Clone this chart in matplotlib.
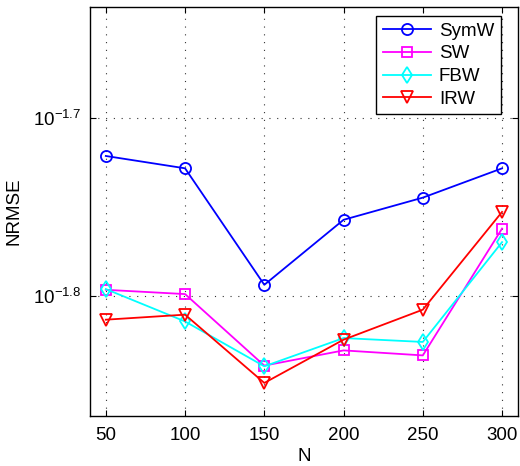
import numpy as np
import matplotlib
matplotlib.use("Agg")
import matplotlib.pyplot as plt
from matplotlib.ticker import FixedLocator, FuncFormatter, NullLocator

plt.rcParams['font.family'] = ['Liberation Sans', 'DejaVu Sans']
plt.rcParams['mathtext.fontset'] = 'custom'
plt.rcParams['mathtext.rm'] = 'Liberation Sans'
plt.rcParams['mathtext.it'] = 'Liberation Sans'

N = [50, 100, 150, 200, 250, 300]
symw = [0.018994, 0.018694, 0.016088, 0.017494, 0.018001, 0.018694]
sw = [0.015985, 0.015897, 0.014497, 0.014784, 0.014689, 0.017298]
fbw = [0.016000, 0.015346, 0.014484, 0.015021, 0.014946, 0.016998]
irw = [0.015381, 0.015481, 0.014177, 0.014990, 0.015581, 0.017673]
ytick_exp = [-1.8, -1.7]

fig = plt.figure(figsize=(5.2, 4.66), dpi=100)
ax = fig.add_axes([0.173, 0.107, 0.823, 0.878])

kw = dict(lw=1.3, ms=8, mfc='none', mew=1.3)
ax.plot(N, symw, color='#0000ff', marker='o', label='SymW', **kw)
ax.plot(N, sw, color='#ff00ff', marker='s', label='SW', **{**kw, 'ms': 7})
ax.plot(N, fbw, color='#00ffff', marker='d', label='FBW', **kw)
ax.plot(N, irw, color='#ff0000', marker='v', label='IRW', **kw)

ax.set_yscale('log')
ax.set_xlim(40, 310)
ax.set_ylim(10 ** -1.867, 10 ** -1.638)
ax.set_xticks(N)
ax.yaxis.set_major_locator(FixedLocator([10 ** e for e in ytick_exp]))
ax.yaxis.set_minor_locator(NullLocator())
ax.yaxis.set_major_formatter(FuncFormatter(lambda v, p: r'$10^{%.1f}$' % np.log10(v)))

ax.grid(True, linestyle=(0, (1, 6)), color='#333333', lw=0.8)
ax.tick_params(direction='in', top=True, right=True, labelsize=13.5, length=4)
ax.tick_params(axis='x', pad=8)
ax.tick_params(axis='y', pad=6)
for s in ax.spines.values():
    s.set_linewidth(1.0)

ax.set_xlabel('N', fontsize=13.5, labelpad=3)
ax.set_ylabel('NRMSE', fontsize=13.5, labelpad=8)

leg = ax.legend(loc='upper right', fontsize=13.5, fancybox=False, framealpha=1,
                edgecolor='black', handlelength=2.6, handletextpad=0.4,
                borderpad=0.35, labelspacing=0.3, borderaxespad=0,
                bbox_to_anchor=(0.960, 0.978))
leg.get_frame().set_linewidth(1.0)

fig.savefig('out.png', dpi=100)
